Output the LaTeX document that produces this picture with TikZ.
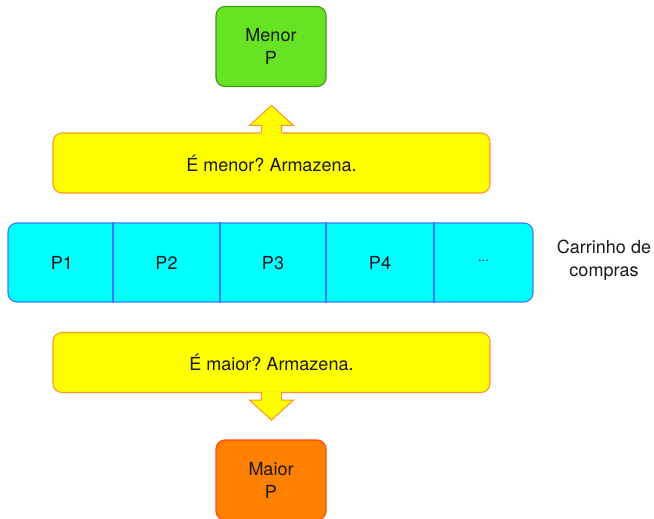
\documentclass[tikz,border=0pt]{standalone}
\usepackage{fontspec}
\setmainfont{TeX Gyre Heros}
\frenchspacing
\begin{document}
\begin{tikzpicture}[x=1pt,y=-1pt,
  txt/.style={font=\fontsize{18}{23}\selectfont, align=center, text=black!90},
  result/.style={txt, rounded corners=9pt, minimum width=110pt, minimum height=80pt, line width=1.1pt, inner sep=0pt},
  test/.style={txt, rounded corners=9pt, minimum width=437pt, minimum height=60pt, line width=1.1pt, fill=pureyellow, draw=yellowline, inner sep=0pt},
  cell/.style={txt, inner sep=0pt},
  arrowshape/.style={fill=pureyellow, draw=yellowline, line width=1.1pt, line join=miter}
]
\definecolor{greenfill}{RGB}{102,227,34}
\definecolor{greenline}{RGB}{60,154,16}
\definecolor{orangefill}{RGB}{255,128,0}
\definecolor{orangeline}{RGB}{255,74,16}
\definecolor{pureyellow}{RGB}{255,255,0}
\definecolor{yellowline}{RGB}{255,150,40}
\definecolor{purecyan}{RGB}{0,255,255}
\definecolor{cartline}{RGB}{58,123,255}
\useasboundingbox (0,0) rectangle (654,519);

% result boxes
\node[result, fill=greenfill, draw=greenline] (menor) at (271,46.5) {Menor\\P};
\node[result, fill=orangefill, draw=orangeline] (maior) at (271,480) {Maior\\P};

% comparison boxes
\node[test] (qmenor) at (271.5,163) {É menor? Armazena.};
\node[test] (qmaior) at (271.5,362.5) {É maior? Armazena.};

% upward arrow on top of the first comparison box
\filldraw[arrowshape] ([xshift=-10pt]qmenor.north) -- ++(0,-7) -- ++(-12,0)
  -- ([yshift=27pt]qmenor.north) -- ([xshift=22pt,yshift=7pt]qmenor.north)
  -- ([xshift=10pt,yshift=7pt]qmenor.north) -- ([xshift=10pt]qmenor.north);
\fill[pureyellow] ([xshift=-9.4pt,yshift=-1.5pt]qmenor.north) rectangle ([xshift=9.4pt,yshift=1.5pt]qmenor.north);

% downward arrow below the second comparison box
\filldraw[arrowshape] ([xshift=-10pt]qmaior.south) -- ++(0,7) -- ++(-12,0)
  -- ([yshift=-27pt]qmaior.south) -- ([xshift=22pt,yshift=-7pt]qmaior.south)
  -- ([xshift=10pt,yshift=-7pt]qmaior.south) -- ([xshift=10pt]qmaior.south);
\fill[pureyellow] ([xshift=-9.4pt,yshift=-1.5pt]qmaior.south) rectangle ([xshift=9.4pt,yshift=1.5pt]qmaior.south);

% shopping cart with its cells
\node[draw=cartline, fill=purecyan, rounded corners=9pt, line width=1.1pt,
  minimum width=525pt, minimum height=79pt, inner sep=0pt] (cart) at (270.5,262.5) {};
\foreach \dx in {113,220,326,434}
  \draw[cartline, line width=1.1pt] (cart.north west -| {\dx,0}) -- (cart.south west -| {\dx,0});
\node[cell] (p1) at (62,263) {P1};
\node[cell] (p2) at (166.5,263) {P2};
\node[cell] (p3) at (273,263) {P3};
\node[cell] (p4) at (380,263) {P4};
\node[cell, font=\fontsize{13}{16}\selectfont] (pn) at (483.5,261) {...};
\node[txt] (label) at (604,260) {Carrinho de\\compras};
\end{tikzpicture}
\end{document}
